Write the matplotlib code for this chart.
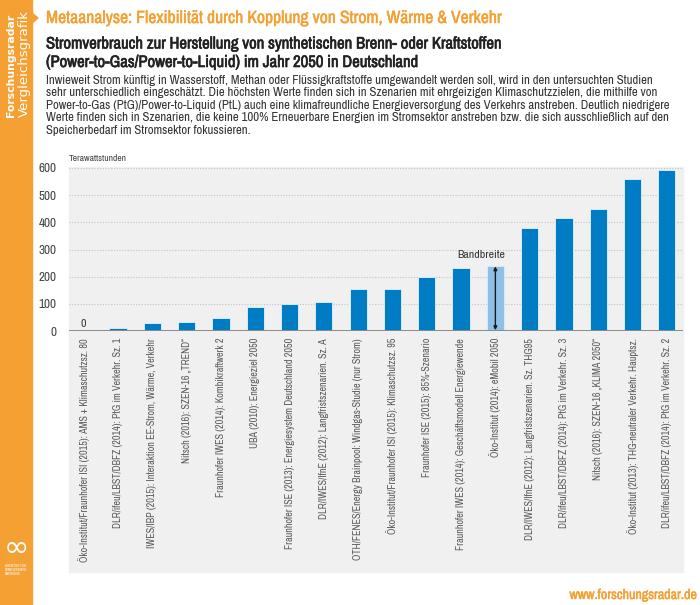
import matplotlib
matplotlib.use("Agg")
import matplotlib.pyplot as plt
from matplotlib.patches import Rectangle, Polygon
from matplotlib import font_manager
import matplotlib.patheffects as pe
import numpy as np

# data
studies = [
    "Öko-Institut/Fraunhofer ISI (2015): AMS + Klimaschutzsz. 80",
    "DLR/ifeu/LBST/DBFZ (2014): PtG im Verkehr. Sz. 1",
    "IWES/IBP (2015): Interaktion EE-Strom, Wärme, Verkehr",
    "Nitsch (2016): SZEN-16 „TREND“",
    "Fraunhofer IWES (2014): Kombikraftwerk 2",
    "UBA (2010): Energieziel 2050",
    "Fraunhofer ISE (2013): Energiesystem Deutschland 2050",
    "DLR/IWES/IfnE (2012): Langfristszenarien. Sz. A",
    "OTH/FENES/Energy Brainpool: Windgas-Studie (nur Strom)",
    "Öko-Institut/Fraunhofer ISI (2015): Klimaschutzsz. 95",
    "Fraunhofer ISE (2015): 85%-Szenario",
    "Fraunhofer IWES (2014): Geschäftsmodell Energiewende",
    "Öko-Institut (2014): eMobil 2050",
    "DLR/IWES/IfnE (2012): Langfristszenarien. Sz. THG95",
    "DLR/ifeu/LBST/DBFZ (2014): PtG im Verkehr. Sz. 3",
    "Nitsch (2016): SZEN-16 „KLIMA 2050“",
    "Öko-Institut (2013): THG-neutraler Verkehr. Hauptsz.",
    "DLR/ifeu/LBST/DBFZ (2014): PtG im Verkehr. Sz. 2",
]
twh = [0, 12, 30, 33, 48, 90, 101, 108, 153, 155, 199, 233, 241, 378, 416, 448, 559, 594]
range_idx = 12          # the "Bandbreite" bar
yticks = [0, 100, 200, 300, 400, 500, 600]

body_lines = [
    "Inwieweit Strom künftig in Wasserstoff, Methan oder Flüssigkraftstoffe umgewandelt werden soll, wird in den untersuchten Studien",
    "sehr unterschiedlich eingeschätzt. Die höchsten Werte finden sich in Szenarien mit ehrgeizigen Klimaschutzzielen, die mithilfe von",
    "Power-to-Gas (PtG)/Power-to-Liquid (PtL) auch eine klimafreundliche Energieversorgung des Verkehrs anstreben. Deutlich niedrigere",
    "Werte finden sich in Szenarien, die keine 100% Erneuerbare Energien im Stromsektor anstreben bzw. die sich ausschließlich auf den",
    "Speicherbedarf im Stromsektor fokussieren.",
]

ORANGE = "#f4a033"
BLUE = "#007cc5"
LIGHT = "#8dbfe7"
PANEL = "#f0f0f0"

# look for a narrow face, the original uses a condensed DIN-like font
family, stretch = "DejaVu Sans", "normal"
for f in font_manager.fontManager.ttflist:
    if "Condensed" in f.name or "Narrow" in f.name:
        family, stretch = f.name, "normal"
        break
else:
    for f in font_manager.fontManager.ttflist:
        if str(f.stretch) in ("condensed", "semi-condensed"):
            family, stretch = f.name, f.stretch
            break
plt.rcParams['font.family'] = [family, 'DejaVu Sans']
plt.rcParams['font.stretch'] = stretch

# does that family really have a bold face? otherwise thicken with a stroke
bold_file = font_manager.findfont(font_manager.FontProperties(family=family, weight="bold",
                                                              stretch=stretch))
has_bold = "bold" in bold_file.lower()

def boldfx(color, w=0.4):
    if has_bold:
        return []
    return [pe.withStroke(linewidth=w, foreground=color)]

W, H = 700, 605
fig = plt.figure(figsize=(7, 6.05), dpi=100)
renderer = fig.canvas.get_renderer()

def fx(x):
    return x / W

def fy(y):
    return 1 - y / H

def fit(t, width_px, horizontal=True):
    # shrink/grow a text so it spans width_px like in the reference
    bb = t.get_window_extent(renderer)
    cur = bb.width if horizontal else bb.height
    t.set_fontsize(t.get_fontsize() * width_px / cur)
    return t

# orange side strip + pointer
fig.patches.append(Rectangle((0, 0), fx(32), 1, transform=fig.transFigure,
                             color=ORANGE, zorder=-2))
fig.patches.append(Polygon([(fx(32), fy(13)), (fx(38), fy(18)), (fx(32), fy(23))],
                           closed=True, transform=fig.transFigure, color=ORANGE, zorder=-2))
t = fig.text(fx(11), fy(117), "Forschungsradar", rotation=90, color="white",
             fontsize=10, fontweight="bold", ha="center", va="bottom", family="DejaVu Sans")
fit(t, 104, horizontal=False)
t = fig.text(fx(24.5), fy(117), "Vergleichsgrafik", rotation=90, color="white",
             fontsize=10, ha="center", va="bottom", family="DejaVu Sans")
fit(t, 106, horizontal=False)
fig.text(fx(16), fy(548), "∞", color="white", fontsize=22, ha="center", va="center",
         family="DejaVu Sans")
fig.text(fx(5), fy(570), "AGENTUR FÜR\nERNEUERBARE\nENERGIEN", color="white",
         fontsize=2.6, ha="left", va="center", linespacing=1.0, fontweight="bold")

# headings
t = fig.text(fx(46), fy(18), "Metaanalyse: Flexibilität durch Kopplung von Strom, Wärme & Verkehr",
             color=ORANGE, fontsize=10, fontweight="bold", va="center",
             path_effects=boldfx(ORANGE, 0.3))
fit(t, 458)
t1 = fig.text(fx(46), fy(44), "Stromverbrauch zur Herstellung von synthetischen Brenn- oder Kraftstoffen",
              color="#222222", fontsize=10, fontweight="bold", va="center",
              path_effects=boldfx("#222222", 0.45))
fit(t1, 458)
fig.text(fx(46), fy(62.5), "(Power-to-Gas/Power-to-Liquid) im Jahr 2050 in Deutschland",
         color="#222222", fontsize=t1.get_fontsize(), fontweight="bold", va="center",
         path_effects=boldfx("#222222", 0.45))

probe = fig.text(0, 0, body_lines[2], fontsize=8)
fit(probe, 624)
bsize = probe.get_fontsize()
probe.remove()
for i, line in enumerate(body_lines):
    fig.text(fx(46), fy(80 + 12.6 * i), line, color="#333333", fontsize=bsize, va="center")

# grey panel behind the chart and its labels
fig.patches.append(Rectangle((fx(69), fy(572)), fx(683 - 69), (572 - 167) / H,
                             transform=fig.transFigure, color=PANEL, zorder=-1))

ax = fig.add_axes([fx(69), fy(331), fx(683 - 69), (331 - 168) / H])
ax.set_zorder(2)
ax.set_facecolor(PANEL)
x = np.arange(len(twh))
colors = [LIGHT if i == range_idx else BLUE for i in x]
ax.bar(x, twh, width=0.5, color=colors, edgecolor="#d4ecfa", linewidth=0.7, zorder=3)

ax.set_xlim(-0.43, len(twh) - 1 + 0.47)
ax.set_ylim(0, 600)
ax.set_yticks(yticks)
ax.set_yticklabels([str(v) for v in yticks], color="#444444", fontsize=9.5)
ax.yaxis.grid(True, linestyle=(0, (1, 1.5)), color="#c4c4c4", linewidth=0.8, zorder=0)
ax.set_axisbelow(True)
ax.axhline(0, color="#8a8a8a", linewidth=1.4, zorder=4)
for s in ax.spines.values():
    s.set_visible(False)
ax.tick_params(axis="both", length=0)
ax.tick_params(axis="y", pad=9)
ax.set_xticks(x)
ax.set_xticklabels(studies, rotation=90, fontsize=6, color="#5a5a5a", va="top", ha="center")
ax.tick_params(axis="x", pad=5)
# longest label runs ~228 px down in the reference
lab0 = ax.get_xticklabels()[0]
h0 = lab0.get_window_extent(renderer).height
xs = 6 * 226 / h0
for lab in ax.get_xticklabels():
    lab.set_fontsize(xs)

ax.text(0, 8, "0", ha="center", va="bottom", fontsize=8.5, color="#333333")
ax.annotate("", xy=(range_idx, 3), xytext=(range_idx, twh[range_idx] - 3),
            arrowprops=dict(arrowstyle="<|-|>", color="#1a1a1a", lw=1.0,
                            mutation_scale=5, shrinkA=0, shrinkB=0), zorder=5)
ax.text(range_idx - 0.4, twh[range_idx] + 20, "Bandbreite", ha="center", va="bottom",
        fontsize=8.5, color="#333333")
ax.text(0.0, 1.03, "Terawattstunden", transform=ax.transAxes, fontsize=6.8,
        color="#444444", ha="left", va="bottom")

t = fig.text(fx(697), fy(595), "www.forschungsradar.de", color=ORANGE, fontsize=8,
             fontweight="bold", ha="right", va="center", path_effects=boldfx(ORANGE, 0.3))
fit(t, 128)

fig.savefig("out.png", dpi=100)
